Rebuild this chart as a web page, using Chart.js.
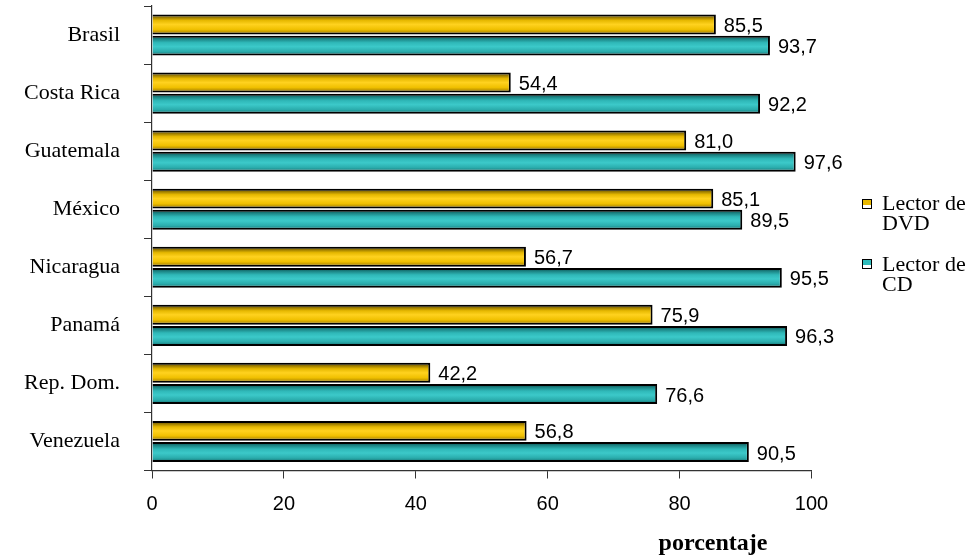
<!DOCTYPE html>
<html>
<head>
<meta charset="utf-8">
<script src="https://cdn.jsdelivr.net/npm/chart.js@4"></script>
<style>
  body { margin: 0; background: #fff; }
  #wrap { position: relative; width: 969px; height: 557px; }
  .leg { position: absolute; left: 882px; font: 22px "Liberation Serif", serif; line-height: 20px; color: #000; }
  .sw { position: absolute; left: 862px; width: 8px; height: 8px; border: 1.5px solid #000; }
  #xtitle { position: absolute; left: 713px; top: 530px; transform: translateX(-50%);
            font: bold 24px "Liberation Serif", serif; line-height: 24px; color: #000; }
</style>
</head>
<body>
<div id="wrap">
  <canvas id="chart"></canvas>
  <span class="sw" style="top:199px;background:linear-gradient(#e8b800 60%, #fff 60%);"></span>
  <div class="leg" style="top:193px">Lector de<br>DVD</div>
  <span class="sw" style="top:259px;background:linear-gradient(#2fbcbc 60%, #fff 60%);"></span>
  <div class="leg" style="top:254px">Lector de<br>CD</div>
  <div id="xtitle">porcentaje</div>
</div>
<script>
const countries = ['Brasil', 'Costa Rica', 'Guatemala', 'México', 'Nicaragua', 'Panamá', 'Rep. Dom.', 'Venezuela'];
const dvdValues = [85.5, 54.4, 81.0, 85.1, 56.7, 75.9, 42.2, 56.8];
const cdValues = [93.7, 92.2, 97.6, 89.5, 95.5, 96.3, 76.6, 90.5];
const seriesNames = ['Lector de DVD', 'Lector de CD'];
const xTicks = [0, 20, 40, 60, 80, 100];

const gradStops = [
  [[0, '#4a3800'], [0.15, '#9c7c00'], [0.3, '#e6b800'], [0.5, '#ffd21f'], [0.75, '#f0c000'], [0.9, '#b89000'], [1, '#8a6c00']],
  [[0, '#083a3a'], [0.15, '#1a7f7f'], [0.35, '#2fb8b8'], [0.55, '#3cc9c9'], [0.8, '#2aacac'], [1, '#146a6a']]
];

function fmt(v) {
  return v.toFixed(1).replace('.', ',');
}

// paint each bar with a vertical gradient from its own position
const barShade = {
  id: 'barShade',
  beforeDatasetsDraw(chart) {
    const ctx = chart.ctx;
    chart.data.datasets.forEach((ds, i) => {
      chart.getDatasetMeta(i).data.forEach(bar => {
        const p = bar.getProps(['y', 'height'], true);
        const g = ctx.createLinearGradient(0, p.y - p.height / 2, 0, p.y + p.height / 2);
        gradStops[i].forEach(s => g.addColorStop(s[0], s[1]));
        bar.options.backgroundColor = g;
      });
    });
  }
};

const valueLabels = {
  id: 'valueLabels',
  afterDatasetsDraw(chart) {
    const ctx = chart.ctx;
    ctx.save();
    ctx.font = '20px "Liberation Sans", Arial, sans-serif';
    ctx.fillStyle = '#000';
    ctx.textAlign = 'left';
    ctx.textBaseline = 'middle';
    chart.data.datasets.forEach((ds, i) => {
      chart.getDatasetMeta(i).data.forEach((bar, j) => {
        const p = bar.getProps(['x', 'y'], true);
        ctx.fillText(fmt(ds.data[j]), p.x + 8, p.y + 2);
      });
    });
    ctx.restore();
  }
};

const ctx = document.getElementById('chart').getContext('2d');
new Chart(ctx, {
  type: 'bar',
  data: {
    labels: countries,
    datasets: [
      {
        label: seriesNames[0],
        data: dvdValues,
        backgroundColor: () => '#f2c400',
        borderColor: '#000',
        borderWidth: 2,
        categoryPercentage: 0.73,
        barPercentage: 0.94
      },
      {
        label: seriesNames[1],
        data: cdValues,
        backgroundColor: () => '#33c2c2',
        borderColor: '#000',
        borderWidth: 2,
        categoryPercentage: 0.73,
        barPercentage: 0.94
      }
    ]
  },
  options: {
    indexAxis: 'y',
    responsive: true,
    maintainAspectRatio: false,
    animation: false,
    layout: { padding: { top: 6, right: 157.5, bottom: 0, left: 0 } },
    scales: {
      x: {
        min: 0,
        max: 100,
        afterBuildTicks: s => { s.ticks = xTicks.map(v => ({ value: v })); },
        afterFit: s => { s.height = 86.5; },
        border: { color: '#333', width: 1.2 },
        grid: { drawOnChartArea: false, drawTicks: true, tickLength: 8, color: '#333' },
        ticks: {
          padding: 14,
          color: '#000',
          font: { family: '"Liberation Sans", Arial, sans-serif', size: 20 }
        }
      },
      y: {
        afterFit: s => { s.width = 152; s.paddingTop = 0; s.paddingBottom = 0; },
        border: { color: '#333', width: 1.2 },
        grid: { drawOnChartArea: false, drawTicks: true, tickLength: 8, color: '#333', offset: true },
        ticks: {
          padding: 24,
          color: '#000',
          font: { family: '"Liberation Serif", serif', size: 22 }
        }
      }
    },
    plugins: {
      legend: { display: false },
      tooltip: { enabled: false }
    }
  },
  plugins: [barShade, valueLabels]
});
</script>
</body>
</html>
